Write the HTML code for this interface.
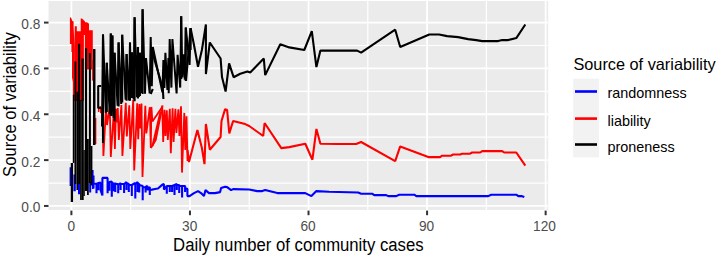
<!DOCTYPE html>
<html><head><meta charset="utf-8"><style>
html,body{margin:0;padding:0;background:#fff;width:718px;height:255px;overflow:hidden}
svg{display:block}
text{font-family:"Liberation Sans",sans-serif}
.tk{font-size:13.7px;fill:#4D4D4D}
.ti{font-size:16.6px;fill:#000}
.lg{font-size:14.4px;fill:#000}
</style></head><body>
<svg width="718" height="255" viewBox="0 0 718 255">
<defs><clipPath id="cp"><rect x="48.5" y="1.0" width="499.70000000000005" height="209.0"/></clipPath></defs>
<rect width="718" height="255" fill="#fff"/>
<rect x="48.5" y="1.0" width="499.70000000000005" height="209.0" fill="#EBEBEB"/>
<line x1="48.5" x2="548.2" y1="183.03" y2="183.03" stroke="#fff" stroke-width="1.2"/>
<line x1="48.5" x2="548.2" y1="137.19" y2="137.19" stroke="#fff" stroke-width="1.2"/>
<line x1="48.5" x2="548.2" y1="91.35" y2="91.35" stroke="#fff" stroke-width="1.2"/>
<line x1="48.5" x2="548.2" y1="45.51" y2="45.51" stroke="#fff" stroke-width="1.2"/>
<line y1="1.0" y2="210.0" x1="130.68" x2="130.68" stroke="#fff" stroke-width="1.2"/>
<line y1="1.0" y2="210.0" x1="249.24" x2="249.24" stroke="#fff" stroke-width="1.2"/>
<line y1="1.0" y2="210.0" x1="367.80" x2="367.80" stroke="#fff" stroke-width="1.2"/>
<line y1="1.0" y2="210.0" x1="486.36" x2="486.36" stroke="#fff" stroke-width="1.2"/>
<line x1="48.5" x2="548.2" y1="205.95" y2="205.95" stroke="#fff" stroke-width="1.8"/>
<line x1="48.5" x2="548.2" y1="160.11" y2="160.11" stroke="#fff" stroke-width="1.8"/>
<line x1="48.5" x2="548.2" y1="114.27" y2="114.27" stroke="#fff" stroke-width="1.8"/>
<line x1="48.5" x2="548.2" y1="68.43" y2="68.43" stroke="#fff" stroke-width="1.8"/>
<line x1="48.5" x2="548.2" y1="22.59" y2="22.59" stroke="#fff" stroke-width="1.8"/>
<line y1="1.0" y2="210.0" x1="71.40" x2="71.40" stroke="#fff" stroke-width="1.8"/>
<line y1="1.0" y2="210.0" x1="189.96" x2="189.96" stroke="#fff" stroke-width="1.8"/>
<line y1="1.0" y2="210.0" x1="308.52" x2="308.52" stroke="#fff" stroke-width="1.8"/>
<line y1="1.0" y2="210.0" x1="427.08" x2="427.08" stroke="#fff" stroke-width="1.8"/>
<line y1="1.0" y2="210.0" x1="545.64" x2="545.64" stroke="#fff" stroke-width="1.8"/>
<g clip-path="url(#cp)">
<line x1="70.4" x2="70.4" y1="167.3" y2="186.0" stroke="#0000FF" stroke-width="1.6"/><line x1="74.6" x2="74.6" y1="174.6" y2="191.3" stroke="#0000FF" stroke-width="2.4"/><line x1="79.0" x2="79.0" y1="183.0" y2="194.2" stroke="#0000FF" stroke-width="2.0"/><line x1="90.2" x2="90.2" y1="182.0" y2="192.5" stroke="#0000FF" stroke-width="2.0"/><line x1="92.8" x2="92.8" y1="170.0" y2="189.0" stroke="#0000FF" stroke-width="1.6"/>
<polyline points="93.5,175.5 93.5,188.5 93.5,183.8 96.5,183.8 96.5,193.2 96.5,184.0 98.2,183.2 98.2,190.2 98.2,183.0 100.5,182.6 100.5,190.0 102.4,195.5 102.4,177.9 107.6,177.9 107.6,193.2 107.6,185.0 109.4,182.0 109.4,190.8 109.4,182.0 111.8,181.4 111.8,196.7 111.8,184.0 113.5,183.0 113.5,191.0 115.3,182.6 115.3,192.0 115.3,184.0 118.2,184.0 118.2,193.2 118.2,185.0 120.6,183.0 120.6,190.0 120.6,184.0 124.1,184.0 124.1,193.0 124.1,184.0 126.5,182.0 126.5,190.0 126.5,183.0 128.8,184.0 128.8,192.0 128.8,185.0 131.8,185.0 131.8,196.0 131.8,185.0 135.3,183.0 135.3,198.5 135.3,184.0 137.6,182.0 137.6,192.0 137.6,184.0 139.2,183.8 139.2,192.6 139.2,185.0 142.7,186.1 142.7,200.2 142.7,187.0 145.6,187.3 145.6,192.6 145.6,187.0 147.4,186.0 147.4,190.0 149.8,187.0 149.8,195.0 149.8,190.0 152.0,189.6 155.0,189.0 158.0,188.5 162.7,184.4 163.9,184.0 163.9,189.6 166.8,186.0 166.8,193.8 166.8,186.0 169.8,186.0 169.8,192.0 169.8,186.0 172.1,186.0 172.1,192.0 172.1,186.0 174.5,185.0 174.5,195.0 174.5,185.0 176.8,184.0 176.8,190.0 176.8,185.0 179.2,185.0 179.2,193.0 179.2,186.0 182.1,186.0 182.1,197.5 182.1,186.0 185.1,186.0 185.1,192.0 185.1,188.0 187.4,189.0 187.4,196.1 189.5,196.1 194.0,193.1 198.0,191.1 201.0,193.1 204.0,196.1 205.5,190.1 209.0,193.1 215.0,193.1 220.1,192.1 221.1,188.1 225.1,186.7 227.1,187.1 231.1,190.1 233.1,189.1 249.2,189.5 257.2,191.1 262.2,191.1 265.2,190.1 277.3,193.1 305.3,193.1 311.4,196.1 316.4,191.1 329.0,191.7 358.1,192.5 361.1,193.7 372.1,193.7 374.2,195.1 386.2,195.1 388.2,196.1 396.2,196.1 399.2,194.7 414.3,194.7 416.3,196.1 488.2,196.1 491.2,194.7 516.3,194.7 518.3,196.1 521.3,196.1 524.3,197.1" fill="none" stroke="#0000FF" stroke-width="2.1" stroke-linejoin="bevel" stroke-linecap="butt"/>
<polygon points="69.9,17.4 71.0,17.4 72.4,20.9 73.6,21.5 73.6,26.7 74.6,48.3 74.6,95.0 72.9,95.0 72.9,82.0 72.0,77.6 72.0,52.0 71.4,52.0 71.4,44.0 69.9,44.0" fill="#FF0000"/>
<polygon points="74.8,26.3 76.8,26.3 76.8,31.2 80.7,31.2 80.7,18.4 82.0,18.4 84.1,20.4 84.6,21.0 85.2,22.3 87.0,22.3 89.0,23.8 89.0,30.2 92.8,30.2 92.8,69.5 84.0,69.5 84.0,101.0 74.2,101.0 74.2,48.3" fill="#FF0000"/>
<line x1="92.4" x2="92.4" y1="60.0" y2="80.6" stroke="#FF0000" stroke-width="1.0"/>
<line x1="84.4" x2="84.4" y1="35.0" y2="150.0" stroke="#EBEBEB" stroke-width="1.0"/>
<polyline points="187.5,150.0 189.0,162.0 197.4,130.0 201.9,148.0 204.5,164.1 205.9,124.0 209.8,149.7 220.6,137.0 221.5,121.0 225.1,109.1 227.1,110.0 229.3,133.4 233.1,121.0 245.2,124.1 249.2,126.0 263.2,136.0 264.6,123.0 281.3,148.1 289.3,147.1 305.3,143.7 312.4,159.7 316.4,129.0 320.4,143.7 338.0,144.0 356.1,144.0 361.1,142.0 395.2,161.1 400.2,146.4 428.3,157.1 440.1,157.1 442.1,155.7 451.1,155.7 453.1,154.5 460.1,154.5 462.1,153.7 470.1,153.7 472.1,152.5 480.2,152.5 482.2,151.1 502.2,151.1 504.2,152.5 516.3,152.5 525.3,165.7" fill="none" stroke="#FF0000" stroke-width="2.1" stroke-linejoin="bevel" stroke-linecap="butt"/>
<line x1="95.7" x2="95.7" y1="118.0" y2="144.0" stroke="#FF0000" stroke-width="1.3"/><line x1="98.6" x2="98.6" y1="107.0" y2="112.0" stroke="#FF0000" stroke-width="1.4"/>
<polyline points="100.0,106.2 101.0,113.0 102.4,107.8 103.4,156.0 106.0,107.9 107.0,125.0 109.8,106.7 110.8,157.0 113.9,110.0 114.9,149.0 116.0,108.8 117.0,122.5 117.8,108.1 118.8,140.0 121.4,105.1 122.4,156.0 125.8,102.9 126.8,136.4 129.3,105.3 130.3,149.0 133.2,100.1 134.2,170.5 137.2,103.3 138.2,139.2 139.4,104.0 140.4,128.4 141.5,103.6 142.5,177.0 145.3,105.7 146.3,133.5 149.8,107.2 150.8,148.0 151.4,106.9 152.4,121.5 162.2,106.9 163.2,142.0 164.5,109.7 165.5,135.9 166.8,110.4 167.8,140.0 169.8,108.8 170.8,153.3 172.6,108.3 173.6,142.0 175.4,108.8 176.4,133.0 178.4,109.4 179.4,136.0 181.0,106.2 182.0,172.6 184.3,112.9 185.3,150.0 186.5,116.3 187.5,161.0" fill="none" stroke="#FF0000" stroke-width="1.8" stroke-linejoin="bevel" stroke-linecap="butt"/>
<polyline points="150.8,148.0 155.6,140.0 162.5,105.4" fill="none" stroke="#FF0000" stroke-width="2.1" stroke-linejoin="bevel" stroke-linecap="butt"/>
<polyline points="152.5,146.0 160.5,112.0" fill="none" stroke="#FF0000" stroke-width="2.1" stroke-linejoin="bevel" stroke-linecap="butt"/>
<line x1="71.9" x2="71.9" y1="163.0" y2="202.0" stroke="#000000" stroke-width="2.3"/><line x1="73.6" x2="73.6" y1="94.7" y2="163.0" stroke="#000000" stroke-width="1.6"/><line x1="75.4" x2="75.4" y1="61.5" y2="184.0" stroke="#000000" stroke-width="1.9"/><line x1="77.3" x2="77.3" y1="91.8" y2="190.0" stroke="#000000" stroke-width="1.7"/><line x1="79.1" x2="79.1" y1="43.8" y2="184.0" stroke="#000000" stroke-width="2.1"/><line x1="80.9" x2="80.9" y1="100.0" y2="200.0" stroke="#000000" stroke-width="1.6"/><line x1="82.6" x2="82.6" y1="58.6" y2="200.0" stroke="#000000" stroke-width="2.2"/><line x1="84.1" x2="84.1" y1="150.0" y2="196.0" stroke="#000000" stroke-width="1.4"/><line x1="86.0" x2="86.0" y1="48.3" y2="191.0" stroke="#000000" stroke-width="2.2"/><line x1="87.9" x2="87.9" y1="139.0" y2="195.0" stroke="#000000" stroke-width="1.8"/><line x1="89.9" x2="89.9" y1="53.0" y2="183.0" stroke="#000000" stroke-width="2.0"/><line x1="91.6" x2="91.6" y1="146.0" y2="185.4" stroke="#000000" stroke-width="1.6"/><line x1="94.2" x2="94.2" y1="49.0" y2="145.0" stroke="#000000" stroke-width="2.2"/>
<polyline points="186.0,81.0 190.6,28.2 194.0,45.0 198.0,66.7 201.9,50.0 205.9,24.5 205.9,74.1 209.8,42.5 220.6,58.5 222.0,77.0 225.6,91.5 229.1,63.4 233.6,77.2 240.3,73.8 247.4,71.5 250.2,72.6 263.8,58.5 265.2,75.1 280.3,44.2 289.3,47.4 304.3,50.0 311.8,31.1 316.4,67.1 320.4,50.6 357.1,50.6 361.1,52.6 395.2,29.7 400.2,47.0 429.3,34.5 439.1,34.5 447.1,36.1 458.1,37.1 468.1,39.1 476.2,40.1 482.2,41.1 498.2,41.1 502.2,40.1 508.2,40.1 516.3,38.1 525.3,24.5" fill="none" stroke="#000000" stroke-width="2.1" stroke-linejoin="bevel" stroke-linecap="butt"/>
<line x1="94.2" x2="94.2" y1="49.2" y2="145.0" stroke="#000000" stroke-width="2.1"/><line x1="103.0" x2="103.0" y1="34.4" y2="143.0" stroke="#000000" stroke-width="2.1"/><line x1="106.8" x2="106.8" y1="62.8" y2="112.0" stroke="#000000" stroke-width="2.1"/><line x1="110.8" x2="110.8" y1="33.5" y2="116.0" stroke="#000000" stroke-width="2.1"/><line x1="112.4" x2="112.4" y1="35.5" y2="100.0" stroke="#000000" stroke-width="2.1"/><line x1="114.6" x2="114.6" y1="52.7" y2="121.3" stroke="#000000" stroke-width="2.1"/><line x1="118.6" x2="118.6" y1="42.4" y2="106.6" stroke="#000000" stroke-width="2.1"/><line x1="122.2" x2="122.2" y1="34.8" y2="102.5" stroke="#000000" stroke-width="2.1"/><line x1="126.6" x2="126.6" y1="54.0" y2="100.7" stroke="#000000" stroke-width="2.1"/><line x1="130.0" x2="130.0" y1="42.5" y2="100.7" stroke="#000000" stroke-width="2.1"/><line x1="132.0" x2="132.0" y1="52.4" y2="98.0" stroke="#000000" stroke-width="2.1"/><line x1="134.6" x2="134.6" y1="17.2" y2="101.3" stroke="#000000" stroke-width="2.1"/><line x1="137.9" x2="137.9" y1="47.0" y2="98.4" stroke="#000000" stroke-width="2.1"/><line x1="139.9" x2="139.9" y1="52.7" y2="96.0" stroke="#000000" stroke-width="2.1"/><line x1="142.6" x2="142.6" y1="9.2" y2="94.0" stroke="#000000" stroke-width="2.1"/><line x1="181.2" x2="181.2" y1="16.2" y2="79.0" stroke="#000000" stroke-width="2.1"/><line x1="185.8" x2="185.8" y1="27.5" y2="81.0" stroke="#000000" stroke-width="2.1"/><line x1="190.6" x2="190.6" y1="28.2" y2="50.0" stroke="#000000" stroke-width="2.1"/>
<polyline points="102.0,126.6 103.0,34.4 105.8,112.7 106.8,62.8 109.8,114.0 110.8,33.5 111.4,116.0 112.4,35.5 113.6,117.8 114.6,52.7 117.6,105.8 118.6,42.4 121.2,103.9 122.2,34.8 125.6,99.8 126.6,54.0 129.0,100.4 130.0,42.5 131.0,95.9 132.0,52.4 133.6,99.5 134.6,17.2 136.9,97.3 137.9,47.0 138.9,97.1 139.9,52.7 141.6,93.0 142.6,9.2 145.0,93.6 146.0,58.0 149.7,93.4 150.7,37.1 151.8,86.3 152.8,47.0 162.4,92.2 163.4,60.0 164.4,88.0 165.4,52.8 167.4,90.0 168.4,58.0 168.7,93.2 169.7,39.1 171.4,87.6 172.4,39.1 176.6,93.5 177.6,54.9 180.2,87.6 181.2,16.2 182.3,77.4 183.3,54.2 184.8,79.6 185.8,27.5 189.6,64.9 190.6,28.2" fill="none" stroke="#000000" stroke-width="2.0" stroke-linejoin="bevel" stroke-linecap="butt"/>
<polyline points="101.2,86.0 98.2,86.0 98.2,108.0 101.2,108.0" fill="none" stroke="#000000" stroke-width="2.1" stroke-linejoin="bevel" stroke-linecap="butt"/>
<polyline points="150.7,94.0 152.8,89.0" fill="none" stroke="#000000" stroke-width="2.1" stroke-linejoin="bevel" stroke-linecap="butt"/>
<polyline points="152.8,50.0 154.5,60.0 162.8,88.0 163.4,99.0" fill="none" stroke="#000000" stroke-width="2.1" stroke-linejoin="bevel" stroke-linecap="butt"/>
</g>
<line x1="44" x2="48.5" y1="205.95" y2="205.95" stroke="#333" stroke-width="2"/>
<text transform="translate(40.3 212.35) scale(1 1.08)" class="tk" text-anchor="end">0.0</text>
<line x1="44" x2="48.5" y1="160.11" y2="160.11" stroke="#333" stroke-width="2"/>
<text transform="translate(40.3 166.51) scale(1 1.08)" class="tk" text-anchor="end">0.2</text>
<line x1="44" x2="48.5" y1="114.27" y2="114.27" stroke="#333" stroke-width="2"/>
<text transform="translate(40.3 120.67) scale(1 1.08)" class="tk" text-anchor="end">0.4</text>
<line x1="44" x2="48.5" y1="68.43" y2="68.43" stroke="#333" stroke-width="2"/>
<text transform="translate(40.3 74.83) scale(1 1.08)" class="tk" text-anchor="end">0.6</text>
<line x1="44" x2="48.5" y1="22.59" y2="22.59" stroke="#333" stroke-width="2"/>
<text transform="translate(40.3 28.99) scale(1 1.08)" class="tk" text-anchor="end">0.8</text>
<line y1="210.6" y2="215.2" x1="71.40" x2="71.40" stroke="#333" stroke-width="2"/>
<text transform="translate(71.40 230.5) scale(1 1.08)" class="tk" text-anchor="middle">0</text>
<line y1="210.6" y2="215.2" x1="189.96" x2="189.96" stroke="#333" stroke-width="2"/>
<text transform="translate(189.66 230.5) scale(1 1.08)" class="tk" text-anchor="middle">30</text>
<line y1="210.6" y2="215.2" x1="308.52" x2="308.52" stroke="#333" stroke-width="2"/>
<text transform="translate(308.12 230.5) scale(1 1.08)" class="tk" text-anchor="middle">60</text>
<line y1="210.6" y2="215.2" x1="427.08" x2="427.08" stroke="#333" stroke-width="2"/>
<text transform="translate(426.58 230.5) scale(1 1.08)" class="tk" text-anchor="middle">90</text>
<line y1="210.6" y2="215.2" x1="545.64" x2="545.64" stroke="#333" stroke-width="2"/>
<text transform="translate(544.44 230.5) scale(1 1.08)" class="tk" text-anchor="middle">120</text>
<text transform="translate(298.3 250.6) scale(1 1.05)" class="ti" style="font-size:16.7px" text-anchor="middle">Daily number of community cases</text>
<text transform="translate(16.1 104.5) rotate(-90) scale(1 1.05)" class="ti" text-anchor="middle">Source of variability</text>
<text transform="translate(573.4 69.6) scale(1 1.05)" class="ti" style="font-size:16.3px">Source of variability</text>
<rect x="573.2" y="78.7" width="25.7" height="26.2" fill="#F2F2F2"/>
<line x1="575.0" x2="597.0" y1="91.5" y2="91.5" stroke="#0000FF" stroke-width="2.6"/>
<text x="607.5" y="98.4" class="lg">randomness</text>
<rect x="573.2" y="104.9" width="25.7" height="26.2" fill="#F2F2F2"/>
<line x1="575.0" x2="597.0" y1="118.6" y2="118.6" stroke="#FF0000" stroke-width="2.6"/>
<text x="607.5" y="126.0" class="lg">liability</text>
<rect x="573.2" y="131.1" width="25.7" height="26.2" fill="#F2F2F2"/>
<line x1="575.0" x2="597.0" y1="144.5" y2="144.5" stroke="#000000" stroke-width="2.6"/>
<text x="607.5" y="151.8" class="lg">proneness</text>
</svg>
</body></html>
